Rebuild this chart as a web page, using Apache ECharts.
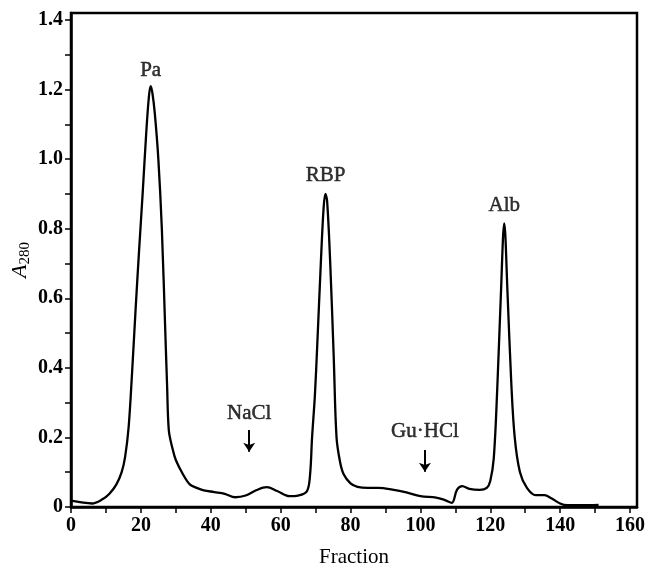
<!DOCTYPE html>
<html>
<head>
<meta charset="utf-8">
<title>A280 elution profile</title>
<script src="https://cdn.jsdelivr.net/npm/echarts@6/dist/echarts.min.js"></script>
<style>
  html, body { margin: 0; padding: 0; background: #fff; }
  #chart { width: 648px; height: 569px; }
</style>
</head>
<body>
<div id="chart"></div>
<script>
// fraction number vs absorbance at 280 nm
const fractions = [0, 3, 6, 9, 11, 13, 14.5, 15.5, 16.5, 17.5, 18.5, 19.5, 20.5, 21.5, 22.3, 22.8, 23.3, 24, 25, 26,
  27, 27.5, 28, 29, 30, 32, 34, 36, 38, 41, 44, 47, 50, 53, 56, 59, 62.5, 65, 67.5, 68.4,
  69, 69.8, 70.5, 71.5, 72.3, 72.8, 73.3, 74.2, 75.2, 76, 77, 78, 80, 82, 85, 88, 92, 96, 100, 104.5,
  107, 109, 110.5, 112, 114, 117, 119, 120, 121, 122, 123, 124, 125, 126, 127, 128.5, 130.5, 133, 135.5, 137.5,
  140, 142, 146, 151];
const absorbance = [0.018, 0.013, 0.01, 0.022, 0.038, 0.065, 0.1, 0.145, 0.23, 0.39, 0.57, 0.74, 0.9, 1.07, 1.18, 1.21, 1.19, 1.13, 1.0, 0.8,
  0.5, 0.35, 0.22, 0.17, 0.135, 0.095, 0.065, 0.055, 0.048, 0.043, 0.038, 0.028, 0.033, 0.048, 0.057, 0.046, 0.031, 0.033, 0.045, 0.09,
  0.2, 0.32, 0.47, 0.7, 0.86, 0.9, 0.88, 0.7, 0.43, 0.2, 0.13, 0.095, 0.068, 0.058, 0.055, 0.055, 0.05, 0.042, 0.031, 0.027,
  0.02, 0.012, 0.05, 0.06, 0.052, 0.049, 0.055, 0.075, 0.14, 0.34, 0.6, 0.815, 0.6, 0.36, 0.2, 0.1, 0.055, 0.034, 0.034, 0.025,
  0.01, 0.005, 0.005, 0.006];

// peak / buffer labels
const noteText = ['Pa', 'RBP', 'Alb', 'NaCl', 'Gu\u00B7HCl'];
const noteX = [22.8, 72.9, 124, 51, 101.3];
const noteY = [1.256, 0.954, 0.868, 0.27, 0.216];

// arrows marking buffer changes: x, top y, bottom y
const arrowX = [51, 101.3];
const arrowTop = [0.221, 0.164];
const arrowBottom = [0.159, 0.101];

const xLabels = [0, 20, 40, 60, 80, 100, 120, 140, 160];
const xTicks = [0, 10, 20, 30, 40, 50, 60, 70, 80, 90, 100, 110, 120, 130, 140, 150, 160];
const yLabels = [0, 0.2, 0.4, 0.6, 0.8, 1.0, 1.2, 1.4];
const yTicks = [0, 0.1, 0.2, 0.3, 0.4, 0.5, 0.6, 0.7, 0.8, 0.9, 1.0, 1.1, 1.2, 1.3, 1.4];

const serif = '"Liberation Serif", "DejaVu Serif", serif';
const chart = echarts.init(document.getElementById('chart'));

const trace = fractions.map((f, i) => [f, absorbance[i]]);
const notes = noteText.map((t, i) => [noteX[i], noteY[i], t]);
const arrows = arrowX.map((x, i) => [{ coord: [x, arrowTop[i]] }, { coord: [x, arrowBottom[i]] }]);

chart.setOption({
  animation: false,
  grid: {
    left: 71, right: 11, top: 13, bottom: 62,
    containLabel: false,
    outerBoundsMode: 'none',
    show: true, borderColor: '#000', borderWidth: 2.5
  },
  xAxis: {
    type: 'value',
    min: 0, max: 162, interval: 20,
    name: 'Fraction',
    nameLocation: 'middle',
    nameGap: 40,
    nameTextStyle: { fontFamily: serif, fontSize: 21, color: '#000' },
    axisLine: { lineStyle: { color: '#000', width: 2.5 } },
    axisTick: { show: true, length: 6, lineStyle: { color: '#000', width: 1.5 }, customValues: xTicks },
    axisLabel: {
      customValues: xLabels,
      fontFamily: serif, fontSize: 20, fontWeight: 'bold', color: '#000', margin: 9
    },
    splitLine: { show: false }
  },
  yAxis: {
    type: 'value',
    min: 0, max: 1.42, interval: 0.2,
    name: '{a|A}{s|280}',
    nameLocation: 'middle',
    nameGap: 38,
    nameRotate: 90,
    nameMoveOverlap: false,
    nameTextStyle: {
      rich: {
        a: { fontFamily: serif, fontSize: 22, fontStyle: 'italic', color: '#000', verticalAlign: 'top', lineHeight: 24 },
        s: { fontFamily: serif, fontSize: 15, color: '#000', verticalAlign: 'bottom', lineHeight: 24, padding: [8, 0, 0, 0] }
      }
    },
    axisLine: { lineStyle: { color: '#000', width: 2.5 } },
    axisTick: { show: true, length: 6, lineStyle: { color: '#000', width: 1.5 }, customValues: yTicks },
    axisLabel: {
      customValues: yLabels,
      formatter: v => (v === 0 ? '0' : v.toFixed(1)),
      fontFamily: serif, fontSize: 20, fontWeight: 'bold', color: '#000', margin: 8
    },
    splitLine: { show: false }
  },
  series: [
    {
      type: 'line',
      data: trace,
      smooth: 0.35,
      showSymbol: false,
      lineStyle: { color: '#000', width: 2.3 },
      silent: true
    },
    {
      type: 'scatter',
      data: notes,
      symbolSize: 0,
      silent: true,
      label: {
        show: true,
        position: 'inside',
        formatter: p => p.data[2],
        fontFamily: serif, fontSize: 21, color: '#000',
        textBorderColor: '#000', textBorderWidth: 0.5
      },
      markLine: {
        silent: true,
        symbol: ['none', 'arrow'],
        symbolSize: 9,
        label: { show: false },
        lineStyle: { color: '#000', width: 2, type: 'solid' },
        data: arrows
      }
    }
  ]
});
</script>
</body>
</html>
